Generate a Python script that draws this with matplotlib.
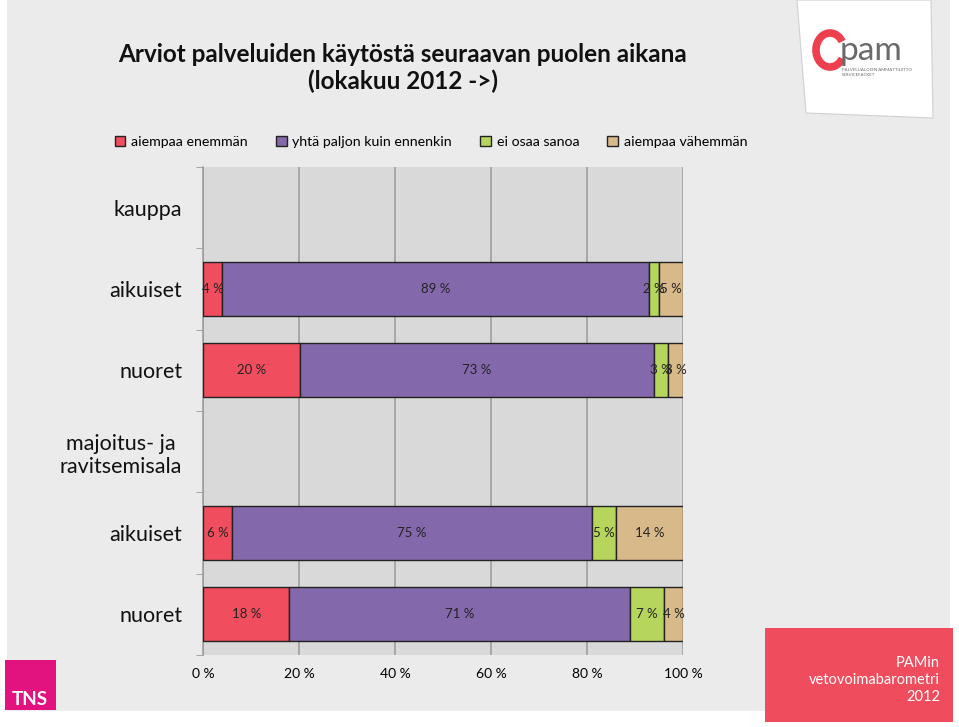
import numpy as np
import matplotlib.pyplot as plt
from matplotlib.patches import Rectangle, Polygon, Arc

plt.rcParams['font.family'] = ['Lato', 'DejaVu Sans']

# data
rivit = ['kauppa', 'aikuiset', 'nuoret', 'majoitus- ja\nravitsemisala', 'aikuiset', 'nuoret']
sarjat = ['aiempaa enemmän', 'yhtä paljon kuin ennenkin', 'ei osaa sanoa', 'aiempaa vähemmän']
enemman = [np.nan, 4, 20, np.nan, 6, 18]
yhta = [np.nan, 89, 73, np.nan, 75, 71]
ei_osaa = [np.nan, 2, 3, np.nan, 5, 7]
vahemman = [np.nan, 5, 3, np.nan, 14, 4]
x_ticks = [0, 20, 40, 60, 80, 100]

varit = ['#f04e5e', '#8468ac', '#b6d55c', '#d8b98a']

W, H = 959, 727
fig = plt.figure(figsize=(W / 100, H / 100), dpi=100, facecolor='white')

# taustapaneeli
fig.patches.append(Rectangle((7 / W, 1 - 711 / H), 943 / W, 711 / H, transform=fig.transFigure,
                             facecolor='#ebebeb', edgecolor='none', zorder=-10))

ax = fig.add_axes([203 / W, 1 - 655 / H, 480 / W, 488 / H])
ax.set_facecolor('#d9d9d9')

arvot = np.array([enemman, yhta, ei_osaa, vahemman], dtype=float)
summat = np.nansum(arvot, axis=0)
# 100 % pinottu: jokainen rivi skaalataan summaansa
osuudet = np.where(summat > 0, arvot / np.where(summat > 0, summat, 1) * 100, np.nan)

y = np.arange(len(rivit))
vasen = np.zeros(len(rivit))
for i, nimi in enumerate(sarjat):
    leveys = np.nan_to_num(osuudet[i])
    mask = ~np.isnan(osuudet[i])
    ax.barh(y[mask], leveys[mask], left=vasen[mask], height=0.66, color=varit[i],
            edgecolor='#222222', linewidth=1, label=nimi, zorder=3)
    for j in np.where(mask)[0]:
        ax.text(vasen[j] + leveys[j] / 2, y[j], f'{int(arvot[i][j])} %', ha='center', va='center',
                fontsize=9.5, color='#222222', zorder=4)
    vasen = vasen + leveys

ax.set_xlim(0, 100)
ax.set_ylim(len(rivit) - 0.5, -0.5)
ax.set_xticks(x_ticks)
ax.set_xticklabels([f'{v} %' for v in x_ticks], fontsize=10)
ax.tick_params(axis='x', length=0, pad=9)
ax.grid(axis='x', color='#9a9a9a', linewidth=1.1, zorder=1)
ax.set_yticks(y)
ax.set_yticklabels(rivit, fontsize=15.5, color='#111111', multialignment='center')
ax.tick_params(axis='y', length=0, pad=15)
ax.set_yticks(np.arange(-0.5, len(rivit) + 0.5, 1), minor=True)
ax.tick_params(axis='y', which='minor', length=5, color='#9a9a9a', direction='out')
for s in ['top', 'right', 'bottom']:
    ax.spines[s].set_visible(False)
ax.spines['left'].set_color('#9a9a9a')
ax.spines['left'].set_linewidth(1.1)

# otsikko
fig.text(403 / W, 1 - 68 / H, 'Arviot palveluiden käytöstä seuraavan puolen aikana\n(lokakuu 2012 ->)',
         ha='center', va='center', fontsize=17.5, fontweight='bold', linespacing=1.2, color='#111111')

# selite
fig.legend(*ax.get_legend_handles_labels(), loc='center', bbox_to_anchor=(431 / W, 1 - 142 / H),
           ncol=4, frameon=False, fontsize=10.2, handlelength=0.75, handleheight=0.75,
           handletextpad=0.4, columnspacing=2.0)

# TNS logo
fig.patches.append(Rectangle((5 / W, 1 - 710 / H), 51 / W, 50 / H, transform=fig.transFigure,
                             facecolor='#e2127e', edgecolor='none'))
fig.text(12 / W, 1 - 708 / H, 'TNS', color='white', fontsize=13.5, fontweight='bold', ha='left', va='bottom')

# PAMin laatikko
fig.patches.append(Rectangle((765 / W, 1 - 722 / H), 188 / W, 94 / H, transform=fig.transFigure,
                             facecolor='#ef4d5d', edgecolor='none'))
fig.text(940 / W, 1 - 680 / H, 'PAMin\nvetovoimabarometri\n2012', color='white', fontsize=10.5,
         ha='right', va='center', multialignment='right', linespacing=1.3)

# PAM logo
fig.patches.append(Polygon([(797 / W, 1), (931 / W, 1), (933 / W, 1 - 118 / H), (806 / W, 1 - 113 / H)],
                           closed=True, transform=fig.transFigure, facecolor='white',
                           edgecolor='#d0d0d0', linewidth=0.8, zorder=-5))
lax = fig.add_axes([800 / W, 1 - 115 / H, 130 / W, 115 / H], zorder=5)
lax.set_xlim(0, 130)
lax.set_ylim(115, 0)
lax.axis('off')
lax.add_patch(Arc((30, 50), 28, 34, theta1=35, theta2=325, color='#ee3f4f', linewidth=5.5))
lax.text(40, 60, 'pam', fontsize=24, color='#6a6a6a', ha='left', va='baseline')
lax.text(42, 68, 'PALVELUALOJEN AMMATTILIITTO\nSERVICEFACKET', fontsize=3.2, color='#6a6a6a',
         ha='left', va='top', linespacing=1.4)

fig.savefig('out.png', dpi=100, facecolor='white')
